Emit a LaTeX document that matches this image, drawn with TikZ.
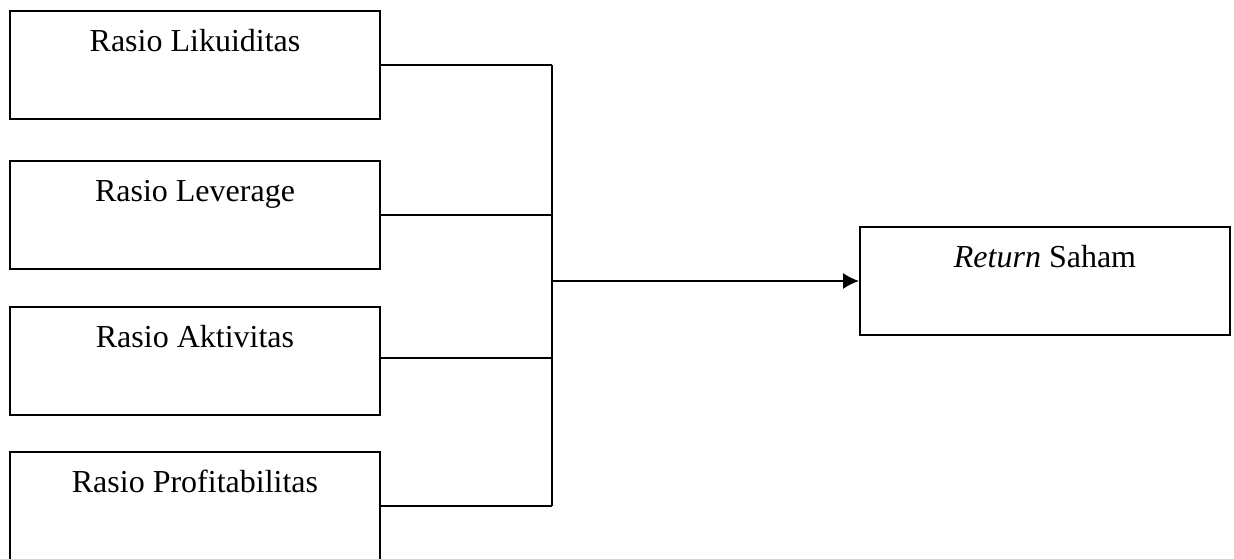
\documentclass[tikz,border=0pt]{standalone}
\usepackage{fontspec}
\setmainfont{Liberation Serif}
\usepackage{tikz}
\usetikzlibrary{arrows.meta, positioning}

\tikzset{
    ratiobox/.style={draw, line width=1pt, minimum width=185pt, inner sep=0pt,
        text height=20pt, text depth=34pt, align=center},
    link/.style={line width=0.8pt}
}

\begin{document}
\begin{tikzpicture}[x=0.5pt, y=-0.5pt, font=\fontsize{16}{19}\selectfont]
    \useasboundingbox (0, 0) rectangle (1234, 558);

    \node[ratiobox] (likuid) at (195, 65) {Rasio Likuiditas};
    \node[ratiobox] (lever) at (195, 215) {Rasio Leverage};
    \node[ratiobox] (aktiv) at (195, 361) {Rasio Aktivitas};
    \node[ratiobox] (profit) at (195, 506) {Rasio Profitabilitas};

    \node[ratiobox] (return) at (1045, 281) {\textit{Return} Saham};

    \coordinate (join) at (552, 281);

    \draw[link] (likuid.east) -- (likuid.east -| join);
    \draw[link] (lever.east) -- (lever.east -| join);
    \draw[link] ([yshift=1.5pt]aktiv.east) -- ([yshift=1.5pt]aktiv.east -| join);
    \draw[link] (profit.east) -- (profit.east -| join);
    \draw[link] (likuid.east -| join) -- (profit.east -| join);

    \draw[link, -{Latex[length=8pt, width=8pt]}] (join) -- (return.west);
\end{tikzpicture}
\end{document}
